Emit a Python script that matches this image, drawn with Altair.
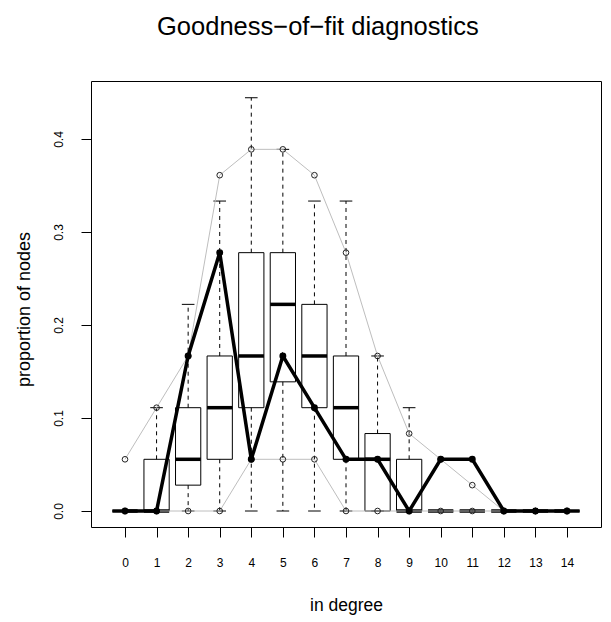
import altair as alt
import pandas as pd

# ---- data (proportion of nodes by in-degree) ----
degrees = list(range(15))
observed = [0, 0, 0.1667, 0.2778, 0.0556, 0.1667, 0.1111, 0.0556, 0.0556, 0, 0.0556, 0.0556, 0, 0, 0]
box_q1 = [0, 0, 0.0278, 0.0556, 0.1111, 0.1389, 0.1111, 0.0556, 0, 0, 0, 0, 0, 0, 0]
box_med = [0, 0, 0.0556, 0.1111, 0.1667, 0.2222, 0.1667, 0.1111, 0.0556, 0, 0, 0, 0, 0, 0]
box_q3 = [0, 0.0556, 0.1111, 0.1667, 0.2778, 0.2778, 0.2222, 0.1667, 0.0833, 0.0556, 0, 0, 0, 0, 0]
whisk_lo = [0] * 15
whisk_hi = [0, 0.1111, 0.2222, 0.3333, 0.4444, 0.3889, 0.3333, 0.3333, 0.1667, 0.1111, 0, 0, 0, 0, 0]
ci_upper = [0.0556, 0.1111, 0.1667, 0.3611, 0.3889, 0.3889, 0.3611, 0.2778, 0.1667, 0.0833, 0.0556, 0.0278, 0, 0, 0]
ci_lower = [0, 0, 0, 0, 0.0556, 0.0556, 0.0556, 0, 0, 0, 0, 0, 0, 0, 0]
y_ticks = [0, 0.1, 0.2, 0.3, 0.4]

BOX_HALF = 0.4
CAP_HALF = 0.2

df = pd.DataFrame({
    "deg": degrees, "obs": observed, "q1": box_q1, "med": box_med, "q3": box_q3,
    "wlo": whisk_lo, "whi": whisk_hi, "cu": ci_upper, "cl": ci_lower,
})
df["bl"] = df["deg"] - BOX_HALF
df["br"] = df["deg"] + BOX_HALF
df["cl_x"] = df["deg"] - CAP_HALF
df["cr_x"] = df["deg"] + CAP_HALF

FONT = "Liberation Sans"

x_scale = alt.Scale(domain=[-1.077, 15.077], nice=False, zero=False)
y_scale = alt.Scale(domain=[-0.0172, 0.4624], nice=False, zero=False)

x_axis = alt.Axis(
    values=degrees, title="in degree", domain=False, grid=False,
    tickSize=10, tickColor="black", tickWidth=1,
    labelFontSize=12, labelColor="black", labelPadding=25, labelBaseline="middle",
    labelFlush=False, labelOverlap=False,
    titleFontSize=17.5, titleFontWeight="normal", titleColor="black",
    titleY=83, titleBaseline="alphabetic",
)
y_axis = alt.Axis(
    values=y_ticks, format=".1f", title="proportion of nodes", domain=False, grid=False,
    tickSize=10, tickColor="black", tickWidth=1,
    labelFontSize=12, labelColor="black", labelAngle=270, labelAlign="center",
    labelBaseline="middle", labelPadding=23, labelFlush=False, labelOverlap=False,
    titleFontSize=18, titleFontWeight="normal", titleColor="black", titleAngle=270,
    titleX=-62, titleY=228, titleAlign="center", titleBaseline="alphabetic",
)

def X(field):
    return alt.X(f"{field}:Q", scale=x_scale, axis=x_axis)

def Y(field):
    return alt.Y(f"{field}:Q", scale=y_scale, axis=y_axis)

base = alt.Chart(df)

# dashed whiskers
whisk_up = base.mark_rule(color="black", strokeWidth=1, strokeDash=[4, 4]).encode(
    x=X("deg"), y=Y("q3"), y2="whi:Q")
whisk_dn = base.mark_rule(color="black", strokeWidth=1, strokeDash=[4, 4]).encode(
    x=X("deg"), y=Y("q1"), y2="wlo:Q")
# staples
cap_up = base.mark_rule(color="black", strokeWidth=1).encode(
    x=X("cl_x"), x2="cr_x:Q", y=Y("whi"))
cap_dn = base.mark_rule(color="black", strokeWidth=1).encode(
    x=X("cl_x"), x2="cr_x:Q", y=Y("wlo"))
# boxes
boxes = base.mark_rect(fill="white", fillOpacity=0, stroke="black", strokeWidth=1).encode(
    x=X("bl"), x2="br:Q", y=Y("q1"), y2="q3:Q")
medians = base.mark_rule(color="black", strokeWidth=3.5).encode(
    x=X("bl"), x2="br:Q", y=Y("med"))

# simulation band lines
gray = "#bebebe"
up_line = base.mark_line(color=gray, strokeWidth=1).encode(x=X("deg"), y=Y("cu"))
lo_line = base.mark_line(color=gray, strokeWidth=1).encode(x=X("deg"), y=Y("cl"))
up_pts = base.mark_point(shape="circle", filled=False, size=32, color="#222", strokeWidth=1, opacity=1).encode(
    x=X("deg"), y=Y("cu"))
lo_pts = base.mark_point(shape="circle", filled=False, size=32, color="#222", strokeWidth=1, opacity=1).encode(
    x=X("deg"), y=Y("cl"))

# observed
obs_line = base.mark_line(color="black", strokeWidth=3.5).encode(x=X("deg"), y=Y("obs"))
obs_pts = base.mark_circle(color="black", size=48, opacity=1).encode(x=X("deg"), y=Y("obs"))

chart = alt.layer(
    whisk_up, whisk_dn, cap_up, cap_dn, boxes, medians,
    up_line, lo_line, up_pts, lo_pts, obs_line, obs_pts,
).properties(
    width=510, height=446,
    title=alt.TitleParams(
        "Goodness\u2212of\u2212fit diagnostics", fontSize=25.5, font=FONT, fontWeight="normal",
        color="black", anchor="start", dx=142, offset=21, baseline="alphabetic",
    ),
    autosize=alt.AutoSizeParams(type="none"),
    padding={"left": 83, "top": 73, "right": 2, "bottom": 100},
).configure(font=FONT).configure_view(stroke="black", strokeWidth=1)

chart.save("out.html", embed_options={"renderer": "svg", "actions": False})
